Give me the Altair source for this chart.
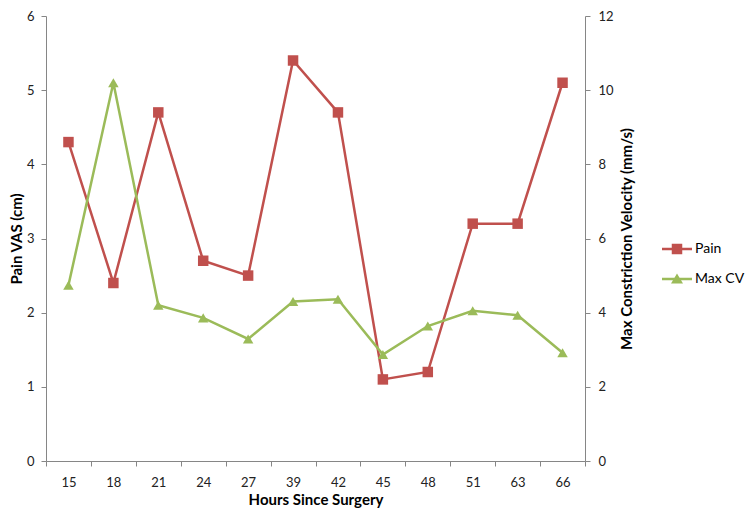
import altair as alt
import pandas as pd

hours = ["15", "18", "21", "24", "27", "39", "42", "45", "48", "51", "63", "66"]
pain = [4.3, 2.4, 4.7, 2.7, 2.5, 5.4, 4.7, 1.1, 1.2, 3.2, 3.2, 5.1]
max_cv = [4.74, 10.2, 4.2, 3.86, 3.29, 4.3, 4.36, 2.87, 3.64, 4.05, 3.93, 2.92]
series_names = ["Pain", "Max CV"]
colors = ["#C0504D", "#9BBB59"]

df_pain = pd.DataFrame({"hour": hours, "value": pain, "series": "Pain"})
df_cv = pd.DataFrame({"hour": hours, "value": max_cv, "series": "Max CV"})

FONT = "Lato"
x_enc = alt.X(
    "hour:O",
    sort=hours,
    scale=alt.Scale(type="band", paddingInner=0, paddingOuter=0),
    axis=alt.Axis(
        title="Hours Since Surgery",
        labelAngle=0,
        tickBand="extent",
        tickSize=5,
        labelPadding=10,
        titlePadding=3,
    ),
)

y_pain = alt.Y(
    "value:Q",
    scale=alt.Scale(domain=[0, 6], nice=False),
    axis=alt.Axis(
        title="Pain VAS (cm)", orient="left", values=[0, 1, 2, 3, 4, 5, 6],
        tickSize=5, labelPadding=7, titlePadding=2, grid=False,
    ),
)
y_cv = alt.Y(
    "value:Q",
    scale=alt.Scale(domain=[0, 12], nice=False),
    axis=alt.Axis(
        title="Max Constriction Velocity (mm/s)", orient="right",
        values=[0, 2, 4, 6, 8, 10, 12], tickSize=5, labelPadding=8,
        titlePadding=21, titleAngle=270, grid=False,
    ),
)

pain_base = alt.Chart(df_pain)
pain_line = pain_base.mark_line(color=colors[0], strokeWidth=2.5).encode(x=x_enc, y=y_pain)
pain_pts = pain_base.mark_point(shape="square", filled=True, opacity=1, color=colors[0], size=110).encode(x=x_enc, y=y_pain)

pain_path = "M-1,-0.08H1V0.08H-1Z M-0.35,-0.35H0.35V0.35H-0.35Z"
cv_path = "M-1,-0.08H1V0.08H-1Z M0,-0.36L0.4,0.3L-0.4,0.3Z"
legend_layer = pain_base.mark_point(filled=True, size=0, opacity=1).encode(
    x=x_enc,
    y=y_pain,
    color=alt.Color(
        "series:N",
        scale=alt.Scale(domain=series_names, range=colors),
        legend=alt.Legend(
            title=None, orient="none", legendX=616, legendY=218,
            symbolSize=900, symbolOpacity=1, symbolStrokeWidth=0,
            labelFontSize=14, labelColor="#000000", labelOffset=3,
            rowPadding=8, labelFont=FONT,
        ),
    ),
    shape=alt.Shape(
        "series:N",
        scale=alt.Scale(domain=series_names, range=[pain_path, cv_path]),
    ),
)

cv_base = alt.Chart(df_cv)
cv_line = cv_base.mark_line(color=colors[1], strokeWidth=2.5).encode(x=x_enc, y=y_cv)
cv_pts = cv_base.mark_point(shape="triangle-up", filled=True, opacity=1, color=colors[1], size=110).encode(x=x_enc, y=y_cv)

left = alt.layer(pain_line, pain_pts, legend_layer)
right = alt.layer(cv_line, cv_pts)

chart = (
    alt.layer(left, right)
    .resolve_scale(y="independent")
    .properties(
        width=539, height=445,
        autosize=alt.AutoSizeParams(type="none"),
        padding={"left": 38, "top": 8, "right": 163, "bottom": 50},
    )
    .configure_view(stroke=None)
    .configure_axis(
        domainColor="#868686", tickColor="#868686",
        labelFont=FONT, labelFontSize=13, labelColor="#222222",
        titleFont=FONT, titleFontSize=15, titleFontWeight="bold", titleColor="#000000",
    )
)

chart.save("out.html", embed_options={"renderer": "svg", "actions": False})
